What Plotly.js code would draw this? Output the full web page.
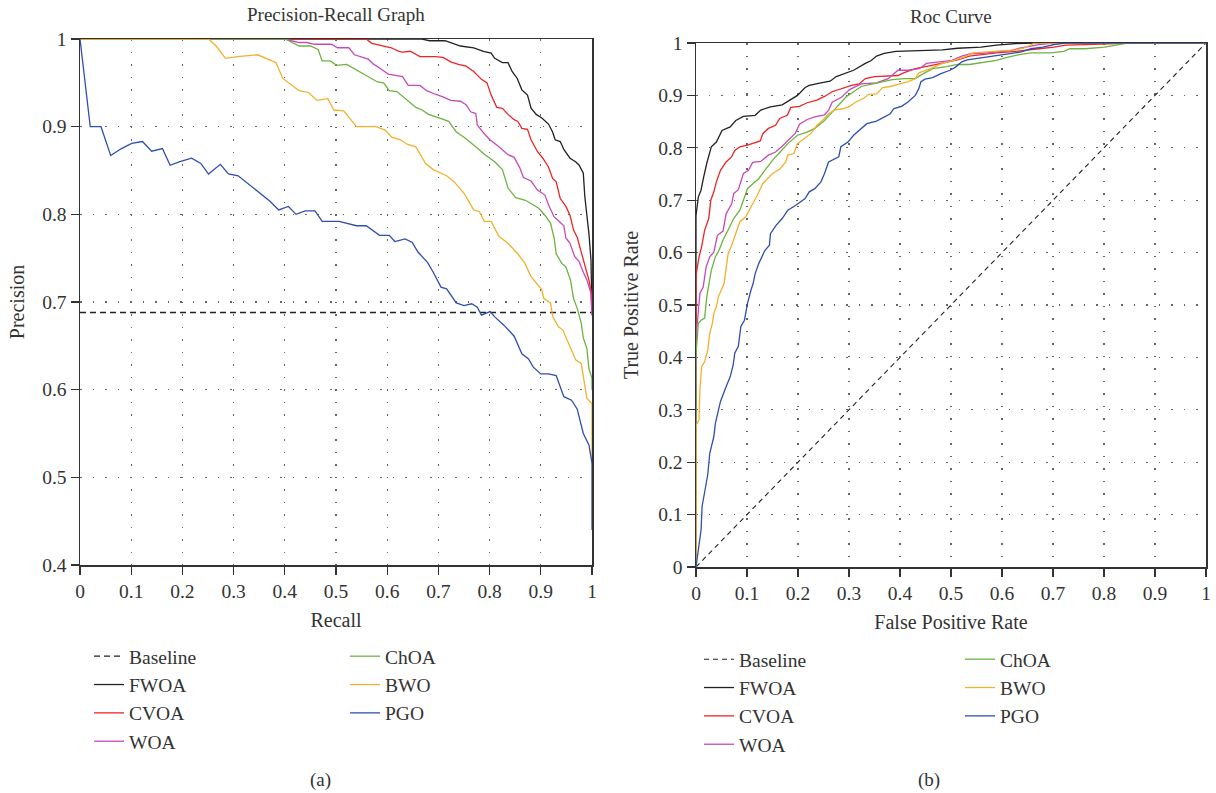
<!DOCTYPE html>
<html>
<head>
<meta charset="utf-8">
<script src="https://cdn.plot.ly/plotly-3.0.1.min.js"></script>
<style>html,body{margin:0;padding:0;background:#fff;}#chart{width:1216px;height:793px;}</style>
</head>
<body>
<div id="chart"></div>
<script>
// ---------- Series names & colours ----------
const seriesNames = ["FWOA", "CVOA", "WOA", "ChOA", "BWO", "PGO"];
const seriesColors = ["#222222", "#ee2424", "#c54bb9", "#6db33f", "#f2b12c", "#2f4fae"];

// ---------- Precision-Recall data ----------
const prBaselineRecall = [0, 1];
const prBaselinePrecision = [0.688, 0.688];

const prRecallFWOA = [0, 0.668, 0.683, 0.713, 0.728, 0.743, 0.769, 0.788, 0.803, 0.81, 0.825, 0.836, 0.844, 0.854, 0.863, 0.874, 0.881, 0.891, 0.902, 0.915, 0.923, 0.928, 0.938, 0.945, 0.957, 0.968, 0.975, 0.983, 0.986, 0.99, 0.994, 0.998, 1.0, 1.0];
const prPrecisionFWOA = [1, 1, 0.998, 0.998, 0.995, 0.992, 0.99, 0.986, 0.984, 0.978, 0.973, 0.973, 0.963, 0.955, 0.942, 0.936, 0.921, 0.914, 0.91, 0.903, 0.894, 0.885, 0.883, 0.874, 0.864, 0.86, 0.856, 0.847, 0.82, 0.801, 0.778, 0.748, 0.70, 0.688];

const prRecallCVOA = [0, 0.559, 0.57, 0.593, 0.608, 0.623, 0.63, 0.645, 0.664, 0.694, 0.709, 0.724, 0.739, 0.754, 0.769, 0.784, 0.795, 0.803, 0.814, 0.825, 0.836, 0.848, 0.855, 0.863, 0.874, 0.881, 0.893, 0.904, 0.915, 0.923, 0.93, 0.938, 0.949, 0.957, 0.964, 0.971, 0.979, 0.986, 0.994, 0.998, 1.0];
const prPrecisionCVOA = [1, 1, 0.995, 0.992, 0.99, 0.986, 0.985, 0.986, 0.98, 0.98, 0.979, 0.974, 0.971, 0.969, 0.963, 0.954, 0.95, 0.936, 0.922, 0.921, 0.914, 0.908, 0.906, 0.898, 0.897, 0.885, 0.872, 0.864, 0.854, 0.841, 0.837, 0.818, 0.809, 0.799, 0.782, 0.774, 0.757, 0.744, 0.725, 0.713, 0.685];

const prRecallWOA = [0, 0.401, 0.413, 0.428, 0.443, 0.458, 0.491, 0.503, 0.525, 0.536, 0.563, 0.574, 0.585, 0.602, 0.63, 0.641, 0.664, 0.677, 0.694, 0.709, 0.724, 0.743, 0.754, 0.763, 0.773, 0.776, 0.788, 0.799, 0.818, 0.836, 0.848, 0.859, 0.866, 0.881, 0.893, 0.908, 0.915, 0.926, 0.934, 0.945, 0.949, 0.957, 0.966, 0.975, 0.983, 0.99, 0.998, 1.0];
const prPrecisionWOA = [1, 1, 0.998, 0.996, 0.996, 0.994, 0.994, 0.99, 0.99, 0.982, 0.977, 0.971, 0.967, 0.96, 0.957, 0.947, 0.947, 0.941, 0.937, 0.934, 0.93, 0.929, 0.925, 0.917, 0.915, 0.902, 0.893, 0.886, 0.877, 0.868, 0.865, 0.853, 0.842, 0.838, 0.828, 0.822, 0.811, 0.797, 0.793, 0.787, 0.773, 0.767, 0.752, 0.746, 0.734, 0.725, 0.71, 0.685];

const prRecallChOA = [0, 0.401, 0.428, 0.45, 0.465, 0.473, 0.489, 0.501, 0.521, 0.544, 0.57, 0.581, 0.593, 0.604, 0.619, 0.638, 0.656, 0.668, 0.681, 0.701, 0.72, 0.735, 0.75, 0.773, 0.791, 0.81, 0.825, 0.836, 0.851, 0.87, 0.881, 0.896, 0.908, 0.919, 0.926, 0.93, 0.941, 0.949, 0.958, 0.964, 0.971, 0.979, 0.983, 0.99, 0.994, 1.0, 1.0];
const prPrecisionChOA = [1, 1, 0.992, 0.992, 0.988, 0.975, 0.975, 0.97, 0.971, 0.963, 0.954, 0.951, 0.95, 0.941, 0.94, 0.931, 0.922, 0.919, 0.914, 0.91, 0.906, 0.894, 0.888, 0.877, 0.868, 0.86, 0.851, 0.83, 0.819, 0.816, 0.812, 0.807, 0.799, 0.79, 0.773, 0.755, 0.744, 0.74, 0.725, 0.704, 0.693, 0.676, 0.659, 0.647, 0.624, 0.613, 0.6];

const prRecallBWO = [0, 0.251, 0.266, 0.284, 0.308, 0.347, 0.383, 0.396, 0.428, 0.446, 0.463, 0.484, 0.496, 0.515, 0.54, 0.578, 0.596, 0.609, 0.626, 0.639, 0.656, 0.675, 0.69, 0.716, 0.731, 0.75, 0.769, 0.78, 0.79, 0.803, 0.818, 0.836, 0.855, 0.869, 0.881, 0.891, 0.902, 0.906, 0.919, 0.923, 0.934, 0.943, 0.951, 0.968, 0.979, 0.99, 1.0, 1.0];
const prPrecisionBWO = [1, 1, 0.992, 0.978, 0.98, 0.982, 0.973, 0.955, 0.941, 0.939, 0.93, 0.932, 0.919, 0.918, 0.9, 0.9, 0.896, 0.888, 0.885, 0.88, 0.877, 0.858, 0.851, 0.844, 0.837, 0.824, 0.805, 0.803, 0.792, 0.792, 0.775, 0.767, 0.755, 0.744, 0.729, 0.722, 0.714, 0.704, 0.699, 0.684, 0.672, 0.668, 0.657, 0.634, 0.63, 0.59, 0.584, 0.52];

const prRecallPGO = [0, 0.02, 0.041, 0.06, 0.081, 0.101, 0.122, 0.14, 0.161, 0.176, 0.195, 0.218, 0.236, 0.251, 0.274, 0.29, 0.309, 0.33, 0.353, 0.371, 0.388, 0.407, 0.422, 0.44, 0.459, 0.473, 0.506, 0.54, 0.559, 0.585, 0.604, 0.615, 0.635, 0.649, 0.66, 0.679, 0.69, 0.705, 0.716, 0.735, 0.75, 0.765, 0.776, 0.784, 0.801, 0.81, 0.829, 0.848, 0.863, 0.876, 0.885, 0.9, 0.915, 0.93, 0.945, 0.96, 0.971, 0.983, 0.994, 1.0, 1.0];
const prPrecisionPGO = [1, 0.9, 0.9, 0.867, 0.875, 0.881, 0.883, 0.872, 0.875, 0.856, 0.86, 0.864, 0.858, 0.846, 0.857, 0.846, 0.844, 0.834, 0.824, 0.815, 0.805, 0.809, 0.8, 0.804, 0.804, 0.792, 0.792, 0.787, 0.787, 0.776, 0.776, 0.769, 0.772, 0.768, 0.757, 0.745, 0.734, 0.717, 0.715, 0.699, 0.696, 0.698, 0.694, 0.685, 0.689, 0.683, 0.673, 0.661, 0.641, 0.635, 0.626, 0.618, 0.618, 0.616, 0.592, 0.588, 0.578, 0.55, 0.537, 0.516, 0.44];

// ---------- ROC data ----------
const rocBaselineFpr = [0, 1];
const rocBaselineTpr = [0, 1];

const rocFprFWOA = [0, 0, 0.0045, 0.0098, 0.015, 0.021, 0.03, 0.04, 0.051, 0.067, 0.078, 0.093, 0.116, 0.127, 0.146, 0.169, 0.184, 0.199, 0.214, 0.222, 0.245, 0.263, 0.275, 0.294, 0.309, 0.332, 0.343, 0.354, 0.369, 0.392, 0.438, 0.483, 0.513, 0.559, 0.589, 0.627, 0.665, 1];
const rocTprFWOA = [0, 0.671, 0.706, 0.719, 0.744, 0.77, 0.802, 0.811, 0.833, 0.84, 0.852, 0.86, 0.862, 0.872, 0.878, 0.882, 0.891, 0.9, 0.915, 0.919, 0.924, 0.927, 0.936, 0.943, 0.948, 0.961, 0.966, 0.975, 0.98, 0.984, 0.986, 0.987, 0.99, 0.992, 0.996, 0.999, 1, 1];

const rocFprCVOA = [0, 0, 0.006, 0.011, 0.017, 0.025, 0.029, 0.035, 0.04, 0.048, 0.059, 0.07, 0.076, 0.086, 0.101, 0.116, 0.126, 0.131, 0.142, 0.156, 0.164, 0.179, 0.186, 0.203, 0.218, 0.237, 0.252, 0.267, 0.286, 0.305, 0.32, 0.332, 0.35, 0.396, 0.407, 0.43, 0.46, 0.491, 0.513, 0.536, 0.559, 0.589, 0.627, 0.65, 0.672, 0.702, 0.725, 0.763, 0.816, 0.854, 1];
const rocTprCVOA = [0, 0.557, 0.592, 0.611, 0.643, 0.665, 0.7, 0.716, 0.735, 0.757, 0.773, 0.783, 0.795, 0.802, 0.805, 0.809, 0.813, 0.827, 0.837, 0.843, 0.856, 0.862, 0.877, 0.879, 0.886, 0.891, 0.898, 0.907, 0.913, 0.919, 0.922, 0.932, 0.936, 0.938, 0.943, 0.951, 0.957, 0.964, 0.968, 0.975, 0.978, 0.981, 0.984, 0.987, 0.989, 0.992, 0.996, 0.997, 0.999, 1, 1];

const rocFprWOA = [0, 0, 0.003, 0.0076, 0.014, 0.02, 0.027, 0.035, 0.042, 0.053, 0.059, 0.07, 0.074, 0.083, 0.093, 0.103, 0.111, 0.127, 0.142, 0.156, 0.169, 0.184, 0.195, 0.203, 0.218, 0.233, 0.252, 0.26, 0.267, 0.286, 0.301, 0.324, 0.354, 0.377, 0.396, 0.415, 0.438, 0.452, 0.483, 0.502, 0.521, 0.54, 0.559, 0.589, 0.619, 0.634, 0.657, 0.672, 0.702, 1];
const rocTprWOA = [0, 0.44, 0.47, 0.522, 0.534, 0.573, 0.592, 0.601, 0.633, 0.641, 0.674, 0.693, 0.713, 0.72, 0.751, 0.757, 0.772, 0.774, 0.786, 0.792, 0.803, 0.817, 0.828, 0.845, 0.854, 0.859, 0.863, 0.872, 0.887, 0.897, 0.911, 0.922, 0.924, 0.932, 0.948, 0.948, 0.951, 0.961, 0.965, 0.967, 0.975, 0.98, 0.98, 0.983, 0.986, 0.99, 0.994, 0.997, 1, 1];

const rocFprChOA = [0, 0, 0.0045, 0.01, 0.017, 0.021, 0.03, 0.038, 0.045, 0.053, 0.063, 0.074, 0.086, 0.093, 0.101, 0.112, 0.123, 0.135, 0.15, 0.165, 0.18, 0.199, 0.218, 0.233, 0.252, 0.267, 0.282, 0.294, 0.309, 0.324, 0.347, 0.366, 0.385, 0.407, 0.43, 0.445, 0.464, 0.491, 0.513, 0.536, 0.559, 0.589, 0.612, 0.634, 0.657, 0.695, 0.721, 0.733, 0.763, 0.801, 0.824, 0.846, 1];
const rocTprChOA = [0, 0.405, 0.465, 0.471, 0.475, 0.515, 0.566, 0.592, 0.604, 0.624, 0.643, 0.665, 0.681, 0.7, 0.722, 0.732, 0.741, 0.757, 0.776, 0.792, 0.808, 0.824, 0.83, 0.837, 0.852, 0.868, 0.884, 0.897, 0.907, 0.917, 0.922, 0.926, 0.93, 0.932, 0.932, 0.941, 0.951, 0.955, 0.959, 0.959, 0.962, 0.967, 0.973, 0.978, 0.981, 0.981, 0.984, 0.989, 0.989, 0.992, 0.996, 1, 1];

const rocFprBWO = [0, 0, 0.006, 0.0076, 0.011, 0.017, 0.023, 0.027, 0.032, 0.035, 0.04, 0.044, 0.055, 0.059, 0.063, 0.07, 0.078, 0.086, 0.097, 0.108, 0.12, 0.131, 0.15, 0.165, 0.176, 0.18, 0.192, 0.199, 0.21, 0.225, 0.237, 0.248, 0.26, 0.271, 0.29, 0.301, 0.313, 0.328, 0.339, 0.354, 0.366, 0.381, 0.396, 0.415, 0.43, 0.437, 0.46, 0.483, 0.506, 0.525, 0.544, 0.566, 0.597, 0.627, 0.642, 0.665, 1];
const rocTprBWO = [0, 0.27, 0.281, 0.338, 0.382, 0.392, 0.414, 0.446, 0.465, 0.484, 0.497, 0.516, 0.541, 0.573, 0.598, 0.614, 0.636, 0.659, 0.668, 0.687, 0.709, 0.732, 0.751, 0.76, 0.773, 0.786, 0.789, 0.808, 0.816, 0.827, 0.843, 0.852, 0.865, 0.872, 0.875, 0.879, 0.887, 0.894, 0.902, 0.903, 0.915, 0.917, 0.921, 0.926, 0.932, 0.943, 0.951, 0.961, 0.967, 0.973, 0.981, 0.983, 0.985, 0.987, 0.99, 1, 1];

const rocFprPGO = [0, 0.006, 0.01, 0.012, 0.017, 0.02, 0.023, 0.027, 0.031, 0.035, 0.038, 0.044, 0.048, 0.059, 0.067, 0.073, 0.076, 0.083, 0.088, 0.095, 0.101, 0.108, 0.112, 0.116, 0.123, 0.135, 0.144, 0.146, 0.157, 0.169, 0.18, 0.195, 0.214, 0.222, 0.233, 0.245, 0.252, 0.26, 0.267, 0.28, 0.284, 0.298, 0.309, 0.32, 0.335, 0.354, 0.369, 0.381, 0.388, 0.403, 0.415, 0.43, 0.437, 0.441, 0.449, 0.464, 0.479, 0.498, 0.509, 0.521, 0.532, 0.555, 0.574, 0.597, 0.619, 0.638, 0.657, 0.68, 0.702, 0.725, 1];
const rocTprPGO = [0, 0.046, 0.071, 0.116, 0.147, 0.16, 0.176, 0.217, 0.236, 0.249, 0.274, 0.3, 0.316, 0.344, 0.363, 0.386, 0.408, 0.421, 0.459, 0.471, 0.503, 0.529, 0.541, 0.56, 0.579, 0.604, 0.614, 0.636, 0.652, 0.665, 0.681, 0.69, 0.703, 0.716, 0.722, 0.735, 0.751, 0.773, 0.777, 0.783, 0.802, 0.811, 0.824, 0.833, 0.846, 0.851, 0.859, 0.865, 0.875, 0.879, 0.887, 0.9, 0.913, 0.926, 0.931, 0.934, 0.941, 0.948, 0.954, 0.964, 0.968, 0.971, 0.973, 0.976, 0.98, 0.983, 0.989, 0.992, 0.997, 1, 1];

// ---------- Text ----------
const prTitle = "Precision-Recall Graph";
const rocTitle = "Roc Curve";
const prXLabel = "Recall", prYLabel = "Precision";
const rocXLabel = "False Positive Rate", rocYLabel = "True Positive Rate";
const baselineName = "Baseline";

const prX = [prRecallFWOA, prRecallCVOA, prRecallWOA, prRecallChOA, prRecallBWO, prRecallPGO];
const prY = [prPrecisionFWOA, prPrecisionCVOA, prPrecisionWOA, prPrecisionChOA, prPrecisionBWO, prPrecisionPGO];
const rocX = [rocFprFWOA, rocFprCVOA, rocFprWOA, rocFprChOA, rocFprBWO, rocFprPGO];
const rocY = [rocTprFWOA, rocTprCVOA, rocTprWOA, rocTprChOA, rocTprBWO, rocTprPGO];

const FONT = "Liberation Serif, Times New Roman, serif";
const W = 1216, H = 793;
const px = v => v / W, py = v => 1 - v / H;

const traces = [];
// Left (PR)
traces.push({x: prBaselineRecall, y: prBaselinePrecision, name: baselineName, type: "scatter", mode: "lines",
  line: {color: "#222", width: 1.3, dash: "6px,4px"}, xaxis: "x", yaxis: "y", legend: "legend"});
seriesNames.forEach((n, i) => {
  traces.push({x: prX[i], y: prY[i], name: n, type: "scatter", mode: "lines",
    line: {color: seriesColors[i], width: 1.3}, xaxis: "x", yaxis: "y", legend: i < 3 ? "legend" : "legend2"});
});
// Right (ROC)
traces.push({x: rocBaselineFpr, y: rocBaselineTpr, name: baselineName, type: "scatter", mode: "lines",
  line: {color: "#222", width: 1.1, dash: "5px,4px"}, xaxis: "x2", yaxis: "y2", legend: "legend3"});
seriesNames.forEach((n, i) => {
  traces.push({x: rocX[i], y: rocY[i], name: n, type: "scatter", mode: "lines",
    line: {color: seriesColors[i], width: 1.3}, xaxis: "x2", yaxis: "y2", legend: i < 3 ? "legend3" : "legend4"});
});

const tickFont = {family: FONT, size: 19.5, color: "#333"};
const axisCommon = {
  showline: true, linecolor: "#333", linewidth: 1.5, mirror: true,
  ticks: "outside", ticklen: 8, tickwidth: 1.3, tickcolor: "#333",
  showgrid: true, gridcolor: "#666", gridwidth: 1.2, griddash: "1.5px,11px",
  zeroline: false, tickfont: tickFont, fixedrange: true, dtick: 0.1
};
const titleFont = {family: FONT, size: 20, color: "#333"};
const legFont = {family: FONT, size: 19.5, color: "#333"};
const legCommon = {font: legFont, bgcolor: "rgba(0,0,0,0)", xanchor: "left", yanchor: "top", tracegroupgap: 0, itemwidth: 30};
const annFont = {family: FONT, size: 19, color: "#333"};

const layout = {
  width: W, height: H,
  margin: {l: 0, r: 0, t: 0, b: 0},
  paper_bgcolor: "#fff", plot_bgcolor: "#fff",
  showlegend: true,
  xaxis: Object.assign({}, axisCommon, {domain: [px(80), px(592)], range: [0, 1], anchor: "y",
    title: {text: prXLabel, font: titleFont, standoff: 12}}),
  yaxis: Object.assign({}, axisCommon, {domain: [py(565), py(39)], range: [0.4, 1], anchor: "x",
    title: {text: prYLabel, font: titleFont, standoff: 12}}),
  xaxis2: Object.assign({}, axisCommon, {domain: [px(696), px(1206)], range: [0, 1], anchor: "y2",
    title: {text: rocXLabel, font: titleFont, standoff: 12}}),
  yaxis2: Object.assign({}, axisCommon, {domain: [py(567), py(43)], range: [0, 1], anchor: "x2",
    title: {text: rocYLabel, font: titleFont, standoff: 14}}),
  legend: Object.assign({}, legCommon, {x: px(89), y: py(637)}),
  legend2: Object.assign({}, legCommon, {x: px(345), y: py(637)}),
  legend3: Object.assign({}, legCommon, {x: px(699), y: py(640)}),
  legend4: Object.assign({}, legCommon, {x: px(960), y: py(640)}),
  annotations: [
    {text: prTitle, x: px(336), y: py(15), xref: "paper", yref: "paper", xanchor: "center", yanchor: "middle", showarrow: false, font: annFont},
    {text: rocTitle, x: px(951), y: py(16), xref: "paper", yref: "paper", xanchor: "center", yanchor: "middle", showarrow: false, font: annFont},
    {text: "(a)", x: px(320), y: py(780), xref: "paper", yref: "paper", xanchor: "center", yanchor: "middle", showarrow: false, font: annFont},
    {text: "(b)", x: px(929), y: py(780), xref: "paper", yref: "paper", xanchor: "center", yanchor: "middle", showarrow: false, font: annFont}
  ]
};

Plotly.newPlot("chart", traces, layout, {staticPlot: true, displayModeBar: false});
</script>
</body>
</html>
